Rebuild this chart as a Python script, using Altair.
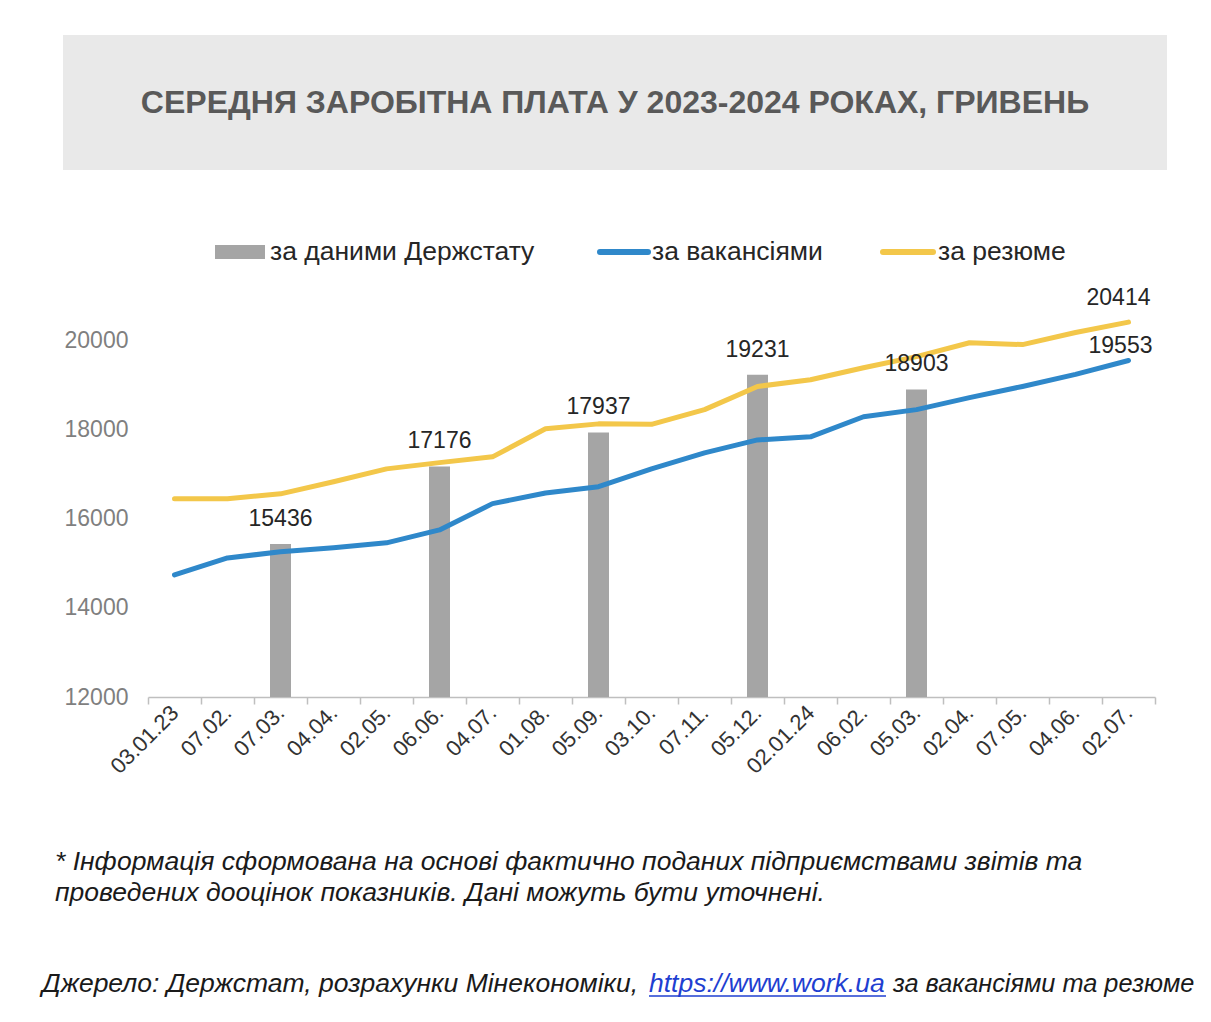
import altair as alt
import pandas as pd

# ---- data ----
dates = ["03.01.23", "07.02.", "07.03.", "04.04.", "02.05.", "06.06.", "04.07.",
         "01.08.", "05.09.", "03.10.", "07.11.", "05.12.", "02.01.24", "06.02.",
         "05.03.", "02.04.", "07.05.", "04.06.", "02.07."]
vacancies = [14740, 15120, 15260, 15350, 15460, 15750, 16340, 16580, 16720, 17120,
             17480, 17770, 17840, 18290, 18450, 18720, 18970, 19240, 19553]
resume = [16450, 16450, 16560, 16830, 17120, 17260, 17390, 18020, 18130, 18120,
          18450, 18970, 19120, 19390, 19640, 19950, 19910, 20180, 20414]
stat_dates = ["07.03.", "06.06.", "05.09.", "05.12.", "05.03."]
stat_values = [15436, 17176, 17937, 19231, 18903]

series_names = ["за даними Держстату", "за вакансіями", "за резюме"]
title_text = "СЕРЕДНЯ ЗАРОБІТНА ПЛАТА У 2023-2024 РОКАХ, ГРИВЕНЬ"
note_line1 = "* Інформація сформована на основі фактично поданих підприємствами звітів та"
note_line2 = "проведених дооцінок показників. Дані можуть бути уточнені."
source_a = "Джерело: Держстат, розрахунки Мінекономіки,"
source_link = "https://www.work.ua"
source_b = "за вакансіями та резюме"
y_ticks = [12000, 14000, 16000, 18000, 20000]

# ---- tables ----
lines_df = pd.DataFrame({
    "date": dates * 2,
    "series": [series_names[1]] * len(dates) + [series_names[2]] * len(dates),
    "value": vacancies + resume,
})
bars_df = pd.DataFrame({"date": stat_dates, "value": stat_values})

FONT = "Liberation Sans"
BLUE = "#2F88CA"
YELLOW = "#F3C74A"
GRAY = "#A5A5A5"
TXT = "#262626"

xscale = alt.Scale(type="band", domain=dates, paddingInner=0, paddingOuter=0)
yscale = alt.Scale(domain=[12000, 21000], zero=False, nice=False)

x_enc = alt.X("date:N", scale=xscale, sort=dates,
              axis=alt.Axis(title=None, tickBand="extent", labelAngle=-45,
                            labelAlign="right", labelBaseline="middle",
                            labelFontSize=22, labelColor="#333333", labelFont=FONT,
                            tickSize=7, tickColor="#BFBFBF", domainColor="#BFBFBF",
                            domainWidth=1.5, tickWidth=1.5, labelPadding=5,
                            labelOverlap=False))
y_enc = alt.Y("value:Q", scale=yscale,
              axis=alt.Axis(title=None, values=y_ticks, grid=False, domain=False,
                            ticks=False, labelFontSize=23, labelColor="#7F7F7F",
                            labelFont=FONT, labelPadding=20, format="d"))

one = alt.Data(values=[{}])

title_box = alt.Chart(one).mark_rect(color="#E9E9E9").encode(
    x=alt.value(-85), x2=alt.value(1019), y=alt.value(-261), y2=alt.value(-126))
title = alt.Chart(one).mark_text(
    text=title_text, font=FONT, fontSize=32, fontWeight="bold", color="#595959",
    align="center", baseline="middle").encode(x=alt.value(467), y=alt.value(-193))

bars = alt.Chart(bars_df).mark_bar(color=GRAY, size=21).encode(
    x=x_enc, y=y_enc, y2=alt.datum(12000))
bar_labels = alt.Chart(bars_df).mark_text(
    font=FONT, fontSize=23, color=TXT, baseline="bottom", dy=-13).encode(
    x=alt.X("date:N", scale=xscale, sort=dates),
    y=alt.Y("value:Q", scale=yscale), text=alt.Text("value:Q", format="d"))

lines = alt.Chart(lines_df).mark_line(
    strokeWidth=5, interpolate="linear", strokeCap="round", strokeJoin="round").encode(
    x=x_enc, y=y_enc,
    color=alt.Color("series:N", scale=alt.Scale(domain=series_names[1:], range=[BLUE, YELLOW]),
                    legend=None))

end_res = alt.Chart(lines_df).transform_filter(
    (alt.datum.date == dates[-1]) & (alt.datum.series == series_names[2])).mark_text(
    font=FONT, fontSize=23, color=TXT, baseline="middle", dx=-10, dy=-24).encode(
    x=alt.X("date:N", scale=xscale, sort=dates),
    y=alt.Y("value:Q", scale=yscale), text=alt.Text("value:Q", format="d"))
end_vac = alt.Chart(lines_df).transform_filter(
    (alt.datum.date == dates[-1]) & (alt.datum.series == series_names[1])).mark_text(
    font=FONT, fontSize=23, color=TXT, baseline="middle", dx=-8, dy=-14).encode(
    x=alt.X("date:N", scale=xscale, sort=dates),
    y=alt.Y("value:Q", scale=yscale), text=alt.Text("value:Q", format="d"))

# ---- legend ----
leg_rect = alt.Chart(one).mark_rect(color=GRAY).encode(
    x=alt.value(67), x2=alt.value(117), y=alt.value(-51), y2=alt.value(-37))
leg_blue = alt.Chart(one).mark_rule(color=BLUE, strokeWidth=6, strokeCap="round").encode(
    x=alt.value(452), x2=alt.value(500), y=alt.value(-44))
leg_yellow = alt.Chart(one).mark_rule(color=YELLOW, strokeWidth=6, strokeCap="round").encode(
    x=alt.value(735), x2=alt.value(785), y=alt.value(-44))
leg_style = dict(font=FONT, fontSize=26.5, color=TXT, align="left", baseline="middle")
leg_t1 = alt.Chart(one).mark_text(text=series_names[0], **leg_style).encode(
    x=alt.value(122), y=alt.value(-44))
leg_t2 = alt.Chart(one).mark_text(text=series_names[1], **leg_style).encode(
    x=alt.value(504), y=alt.value(-44))
leg_t3 = alt.Chart(one).mark_text(text=series_names[2], **leg_style).encode(
    x=alt.value(790), y=alt.value(-44))

# ---- notes ----
note_style = dict(font=FONT, fontSize=26.5, fontStyle="italic", color="#1A1A1A",
                  align="left", baseline="middle")
n1 = alt.Chart(one).mark_text(text=note_line1, **note_style).encode(
    x=alt.value(-93), y=alt.value(566))
n2 = alt.Chart(one).mark_text(text=note_line2, **note_style).encode(
    x=alt.value(-93), y=alt.value(597))
s1 = alt.Chart(one).mark_text(text=source_a, **note_style).encode(
    x=alt.value(-106), y=alt.value(688))
link_style = dict(note_style)
link_style["color"] = "#1F3FD1"
s2 = alt.Chart(one).mark_text(text=source_link, **link_style).encode(
    x=alt.value(501), y=alt.value(688))
s2u = alt.Chart(one).mark_rule(color="#1F3FD1", strokeWidth=1.5).encode(
    x=alt.value(501), x2=alt.value(738), y=alt.value(700))
tail_style = dict(note_style)
tail_style["fontSize"] = 25.3
s3 = alt.Chart(one).mark_text(text=source_b, **tail_style).encode(
    x=alt.value(745), y=alt.value(688))

chart = alt.layer(
    title_box, title, bars, lines, bar_labels, end_res, end_vac,
    leg_rect, leg_blue, leg_yellow, leg_t1, leg_t2, leg_t3,
    n1, n2, s1, s2, s2u, s3,
).properties(
    width=1007, height=401,
    padding={"left": 140, "top": 288, "right": 48, "bottom": 317},
    autosize=alt.AutoSizeParams(type="none"),
    background="white",
).configure_view(stroke=None)

chart.save("out.html", embed_options={"renderer": "svg", "actions": False})
